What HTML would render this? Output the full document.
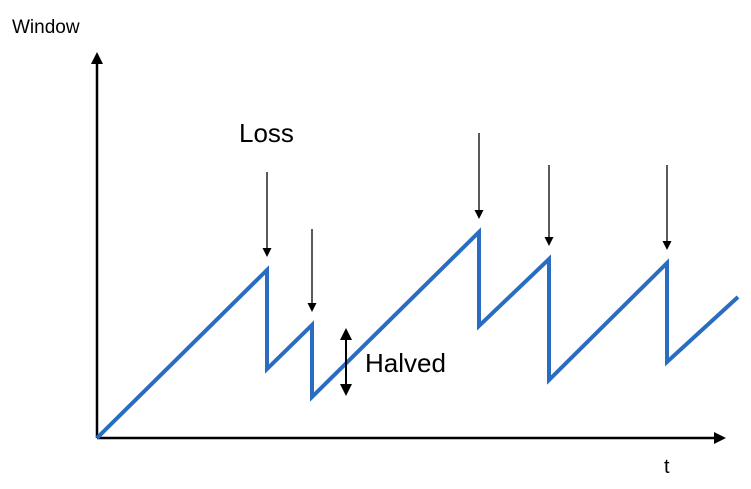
<!DOCTYPE html>
<html><head><meta charset="utf-8"><style>body{margin:0;background:#fff}svg{display:block}</style></head>
<body>
<svg width="751" height="489" viewBox="0 0 751 489">
<defs>
<marker id="ah" markerWidth="9" markerHeight="9" refX="4" refY="4.5" orient="auto" markerUnits="userSpaceOnUse"><path d="M0,0 L9,4.5 L0,9 z" fill="#000"/></marker>
<marker id="ah2" markerWidth="12" markerHeight="12" refX="6" refY="6" orient="auto-start-reverse" markerUnits="userSpaceOnUse"><path d="M0,0 L12,6 L0,12 z" fill="#000"/></marker>
</defs>
<line x1="97" y1="438" x2="97" y2="58" stroke="#000" stroke-width="2.5" marker-end="url(#ah2)"/>
<line x1="97" y1="438" x2="720" y2="438" stroke="#000" stroke-width="2.5" marker-end="url(#ah2)"/>
<text x="12" y="33" font-family="Liberation Sans, sans-serif" font-size="19">Window</text>
<text x="664" y="473" font-family="Liberation Sans, sans-serif" font-size="20">t</text>
<text x="239" y="142" font-family="Liberation Sans, sans-serif" font-size="26">Loss</text>
<text x="365" y="372" font-family="Liberation Sans, sans-serif" font-size="26">Halved</text>
<g id="arrows"></g>
<polyline id="saw" fill="none" stroke="#2a6cc0" stroke-width="4" stroke-linejoin="miter"/>
<line x1="346" y1="334" x2="346" y2="390" stroke="#000" stroke-width="2" marker-start="url(#ah2)" marker-end="url(#ah2)"/>
</svg>
<script>
const times=[0,170,170,215,215,382,382,452,452,570,570,641];
const windowValues=[0,168,69,113,41,206,112,179,58,175,76,141];
const lossTimes=[170,215,382,452,570];
const lossTops=[266,209,305,273,273];
const X=t=>97+t, Y=v=>438-v;
document.getElementById('saw').setAttribute('points',times.map((t,i)=>X(t)+','+Y(windowValues[i])).join(' '));
const g=document.getElementById('arrows');
lossTimes.forEach((t,i)=>{
  const idx=times.indexOf(t);
  const l=document.createElementNS('http://www.w3.org/2000/svg','line');
  l.setAttribute('x1',X(t));l.setAttribute('x2',X(t));
  l.setAttribute('y1',Y(lossTops[i]));l.setAttribute('y2',Y(windowValues[idx])-18);
  l.setAttribute('stroke','#000');l.setAttribute('stroke-width','1.3');
  l.setAttribute('marker-end','url(#ah)');
  
  
  g.appendChild(l);
});
</script>
</body></html>
